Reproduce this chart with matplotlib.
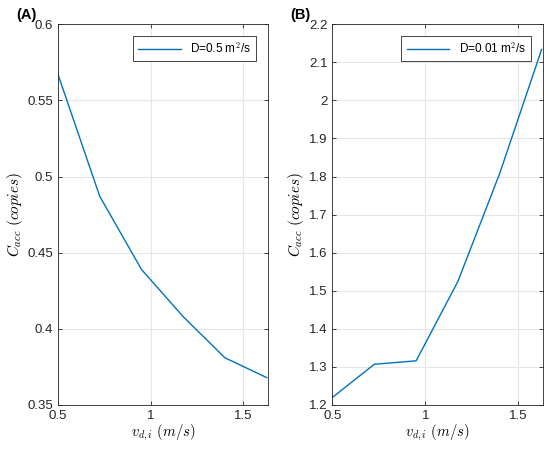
import matplotlib
matplotlib.use("Agg")
import matplotlib.pyplot as plt

plt.rcParams['font.family'] = ['Liberation Sans', 'DejaVu Sans']
plt.rcParams['mathtext.fontset'] = 'cm'

# drift velocity values (m/s)
v_di = [0.5, 0.725, 0.95, 1.175, 1.4, 1.625]

# accumulated concentration for the two diffusion coefficients
c_acc_a = [0.567, 0.487, 0.439, 0.408, 0.381, 0.368]
c_acc_b = [1.220, 1.307, 1.316, 1.525, 1.809, 2.134]

labels = ['D=0.5 m$^2$/s', 'D=0.01 m$^2$/s']
panels = ['(A)', '(B)']
ylims = [(0.35, 0.6), (1.2, 2.2)]
yticks = [[0.35, 0.4, 0.45, 0.5, 0.55, 0.6],
          [1.2, 1.3, 1.4, 1.5, 1.6, 1.7, 1.8, 1.9, 2.0, 2.1, 2.2]]
yticklabels = [['0.35', '0.4', '0.45', '0.5', '0.55', '0.6'],
               ['1.2', '1.3', '1.4', '1.5', '1.6', '1.7', '1.8', '1.9', '2', '2.1', '2.2']]

fig = plt.figure(figsize=(5.5, 4.49), dpi=100)
ax1 = fig.add_axes([0.1055, 0.098, 0.381, 0.848])
ax2 = fig.add_axes([0.6045, 0.098, 0.382, 0.848])

for ax, y, lab, pan, yl, yt, ytl in zip([ax1, ax2], [c_acc_a, c_acc_b], labels,
                                         panels, ylims, yticks, yticklabels):
    ax.plot(v_di, y, color='#0072BD', lw=1.0, label=lab)
    ax.set_xlim(0.5, 1.63)
    ax.set_ylim(*yl)
    ax.set_xticks([0.5, 1.0, 1.5])
    ax.set_xticklabels(['0.5', '1', '1.5'])
    ax.set_yticks(yt)
    ax.set_yticklabels(ytl)
    ax.grid(True, color='#e6e6e6', lw=0.8)
    ax.set_axisbelow(True)
    ax.tick_params(direction='in', top=True, right=True, length=3,
                   labelsize=9.5, color='#262626', labelcolor='#262626', width=0.6)
    for s in ax.spines.values():
        s.set_color('#262626')
        s.set_linewidth(0.6)
    ax.set_xlabel(r'$v_{d,i}\ (m/s)$', fontsize=10.5, labelpad=1)
    ax.set_ylabel(r'$C_{acc}\ (copies)$', fontsize=11, labelpad=2)
    leg = ax.legend(loc='upper right', fontsize=8.5, fancybox=False,
                    framealpha=1, edgecolor='#262626', borderpad=0.45,
                    handlelength=3.6, bbox_to_anchor=(0.975, 0.985))
    leg.get_frame().set_linewidth(0.6)
    ax.text(-0.2, 1.005, pan, transform=ax.transAxes, fontsize=10.5,
            fontweight='bold', ha='left', va='bottom')

fig.savefig('out.png', dpi=100)
